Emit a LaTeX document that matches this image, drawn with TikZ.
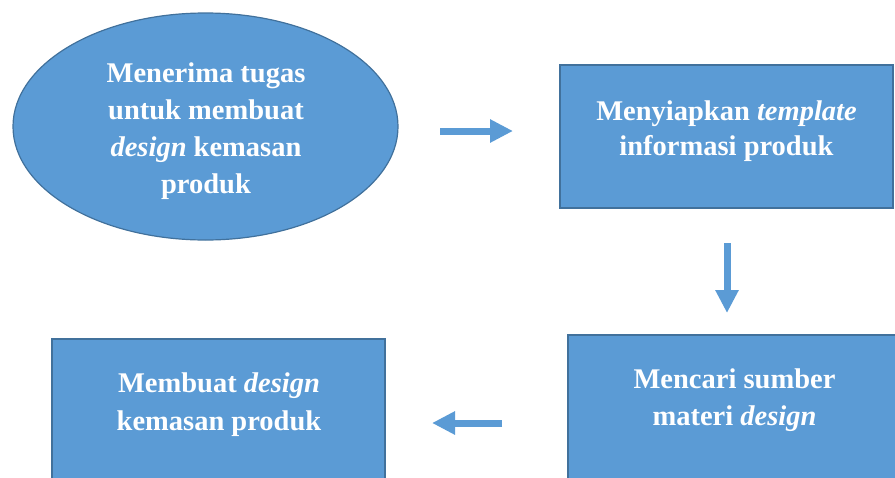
\documentclass[tikz,border=0pt]{standalone}
\usepackage{fontspec}
\setmainfont{Liberation Serif}
\usetikzlibrary{arrows.meta,shapes.geometric}
\definecolor{fillblue}{HTML}{5B9BD5}
\definecolor{edgeblue}{HTML}{41719C}
\begin{document}
\begin{tikzpicture}[x=1pt,y=-1pt,
  shapebox/.style={draw=edgeblue, fill=fillblue, line width=1.2pt, inner sep=0pt},
  txt/.style={text=white, font=\fontsize{28.5}{36}\selectfont\bfseries, align=center, inner sep=0pt},
  flow/.style={draw=fillblue, line width=7pt, -{Triangle[length=23pt,width=22pt]}}]
\useasboundingbox (0,0) rectangle (895,477);
\clip (0,0) rectangle (895,477);
% shapes
\node[shapebox, ellipse, minimum width=385pt, minimum height=227pt] (e) at (205.5,126.5) {};
\node[shapebox, rectangle, minimum width=333pt, minimum height=143pt] (b1) at (726.5,136.5) {};
\node[shapebox, rectangle, minimum width=333pt, minimum height=185pt] (b2) at (734.5,427.5) {};
\node[shapebox, rectangle, minimum width=333pt, minimum height=181pt] (b3) at (218.5,429.5) {};
% texts
\node[txt, font=\fontsize{28.5}{37}\selectfont\bfseries] (te) at (206,131) {Menerima tugas\\untuk membuat\\\textit{design} kemasan\\produk};
\node[txt, font=\fontsize{28.5}{35}\selectfont\bfseries] (t1) at (726.5,131) {Menyiapkan \textit{template}\\informasi produk};
\node[txt, font=\fontsize{28.5}{37}\selectfont\bfseries] (t2) at (734.5,400) {Mencari sumber\\materi \textit{design}};
\node[txt, font=\fontsize{28.5}{38}\selectfont\bfseries] (t3) at (219,404.5) {Membuat \textit{design}\\kemasan produk};
% arrows
\coordinate (a1s) at (440,131);
\coordinate (a1e) at (513,131);
\coordinate (a2s) at (727,243);
\coordinate (a2e) at (727,313);
\coordinate (a3s) at (502,423);
\coordinate (a3e) at (432,423);
\draw[flow] (a1s) -- (a1e);
\draw[flow] (a2s) -- (a2e);
\draw[flow] (a3s) -- (a3e);
\end{tikzpicture}
\end{document}
